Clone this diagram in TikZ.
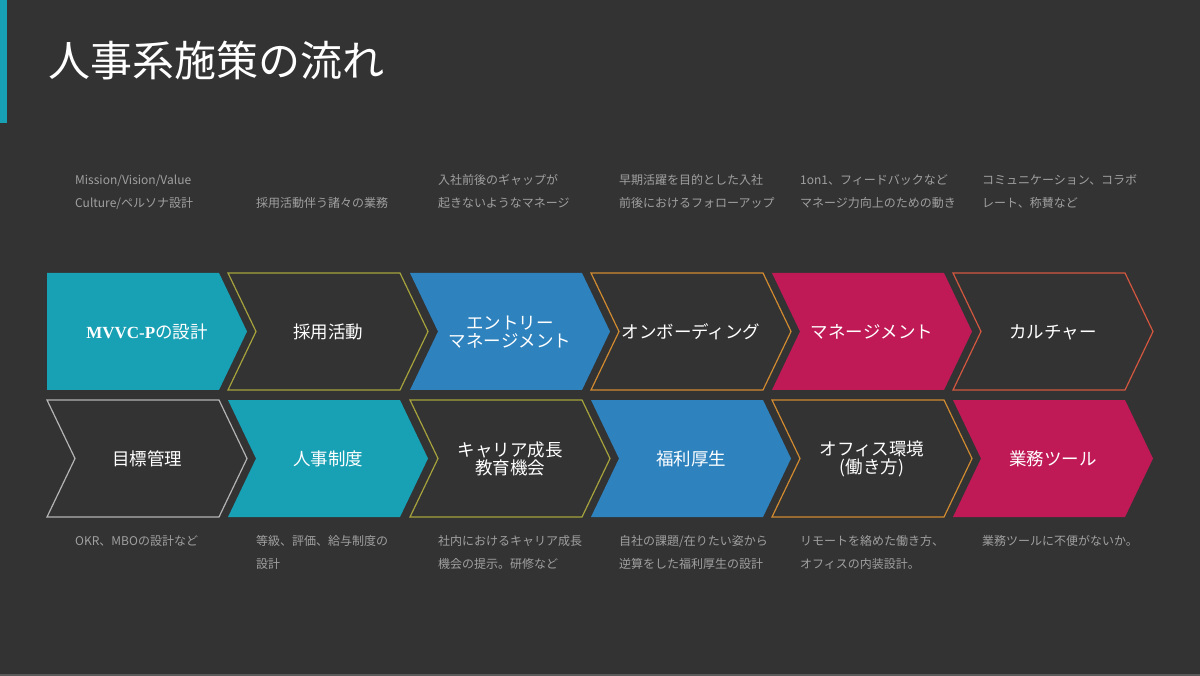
\documentclass[tikz,border=0pt]{standalone}
\usepackage{fontspec}
\setmainfont{Noto Sans CJK JP}
\newfontfamily\slabfont{Liberation Serif}
\definecolor{bgc}{HTML}{333333}
\definecolor{tealc}{HTML}{18A0B4}
\definecolor{bluec}{HTML}{2E82BE}
\definecolor{magc}{HTML}{BF1A56}
\definecolor{olivec}{HTML}{A6A23C}
\definecolor{orangec}{HTML}{D08A30}
\definecolor{redc}{HTML}{D2573E}
\definecolor{grayc}{HTML}{B4B4B4}
\definecolor{descc}{HTML}{A0A0A0}
\definecolor{edgec}{HTML}{5A5A5A}
\newcommand\chevshape[4]{% x0, ytop, style, notch
  \pgfmathsetmacro\cxa{#1}\pgfmathsetmacro\cxb{#1+172}\pgfmathsetmacro\cxc{#1+200}\pgfmathsetmacro\cxn{#1+28}%
  \pgfmathsetmacro\cyt{#2}\pgfmathsetmacro\cyb{#2+117}\pgfmathsetmacro\cym{#2+58.5}%
  \ifnum#4=1
    \path[#3] (\cxa,\cyt) -- (\cxb,\cyt) -- (\cxc,\cym) -- (\cxb,\cyb) -- (\cxa,\cyb) -- (\cxn,\cym) -- cycle;
  \else
    \path[#3] (\cxa,\cyt) -- (\cxb,\cyt) -- (\cxc,\cym) -- (\cxb,\cyb) -- (\cxa,\cyb) -- cycle;
  \fi}
\begin{document}
\begin{tikzpicture}[x=1pt,y=-1pt,
  filled/.style={fill=#1},
  outlined/.style={draw=#1,line width=1.2pt,line join=miter},
  lbl/.style={text=white,font=\fontsize{17.5}{17.5}\selectfont,align=center,inner sep=0pt},
  desc/.style={text=descc,font=\fontsize{12}{14}\selectfont,anchor=base west,inner sep=0pt},
]
\fill[bgc] (0,0) rectangle (1200,676);
\useasboundingbox (0,0) rectangle (1200,676);
\fill[tealc] (0,0) rectangle (7,123);
\fill[edgec] (0,674) rectangle (1200,676);
\node[anchor=west,inner sep=0pt,text=white,font=\fontsize{42}{42}\selectfont] (title) at (48,61) {人事系施策の流れ};

% top row
\chevshape{47}{273}{filled=tealc}{0}
\chevshape{228}{273}{outlined=olivec}{1}
\chevshape{410}{273}{filled=bluec}{1}
\chevshape{591}{273}{outlined=orangec}{1}
\chevshape{772}{273}{filled=magc}{1}
\chevshape{953}{273}{outlined=redc}{1}
% bottom row
\chevshape{47}{400}{outlined=grayc}{1}
\chevshape{228}{400}{filled=tealc}{1}
\chevshape{410}{400}{outlined=olivec}{1}
\chevshape{591}{400}{filled=bluec}{1}
\chevshape{772}{400}{outlined=orangec}{1}
\chevshape{953}{400}{filled=magc}{1}

% labels top
\node[lbl] (t1) at (147,332) {{\slabfont\bfseries\fontsize{17}{17}\selectfont MVVC-P}の設計};
\node[lbl] (t2) at (328,332) {採用活動};
\node[lbl] (t3) at (510,332) {エントリー\\マネージメント};
\node[lbl] (t4) at (691,332) {オンボーディング};
\node[lbl] (t5) at (872,332) {マネージメント};
\node[lbl] (t6) at (1053,332) {カルチャー};
% labels bottom
\node[lbl] (b1) at (147,459) {目標管理};
\node[lbl] (b2) at (328,459) {人事制度};
\node[lbl] (b3) at (510,459) {キャリア成長\\教育機会};
\node[lbl] (b4) at (691,459) {福利厚生};
\node[lbl] (b5) at (872,459) {オフィス環境\\(働き方)};
\node[lbl] (b6) at (1053,459) {業務ツール};

% descriptions top
\node[desc] (d1a) at (75,184.6) {Mission/Vision/Value};
\node[desc] (d1b) at (75,207.6) {Culture/ペルソナ設計};
\node[desc] (d2b) at (256,207.6) {採用活動伴う諸々の業務};
\node[desc] (d3a) at (438,184.6) {入社前後のギャップが};
\node[desc] (d3b) at (438,207.6) {起きないようなマネージ};
\node[desc] (d4a) at (619,184.6) {早期活躍を目的とした入社};
\node[desc] (d4b) at (619,207.6) {前後におけるフォローアップ};
\node[desc] (d5a) at (800,184.6) {1on1、フィードバックなど};
\node[desc] (d5b) at (800,207.6) {マネージ力向上のための動き};
\node[desc] (d6a) at (982,184.6) {コミュニケーション、コラボ};
\node[desc] (d6b) at (982,207.6) {レート、称賛など};
% descriptions bottom
\node[desc] (e1a) at (75,545.6) {OKR、MBOの設計など};
\node[desc] (e2a) at (256,545.6) {等級、評価、給与制度の};
\node[desc] (e2b) at (256,568.6) {設計};
\node[desc] (e3a) at (438,545.6) {社内におけるキャリア成長};
\node[desc] (e3b) at (438,568.6) {機会の提示。研修など};
\node[desc] (e4a) at (619,545.6) {自社の課題/在りたい姿から};
\node[desc] (e4b) at (619,568.6) {逆算をした福利厚生の設計};
\node[desc] (e5a) at (800,545.6) {リモートを絡めた働き方、};
\node[desc] (e5b) at (800,568.6) {オフィスの内装設計。};
\node[desc] (e6a) at (982,545.6) {業務ツールに不便がないか。};
\end{tikzpicture}
\end{document}
